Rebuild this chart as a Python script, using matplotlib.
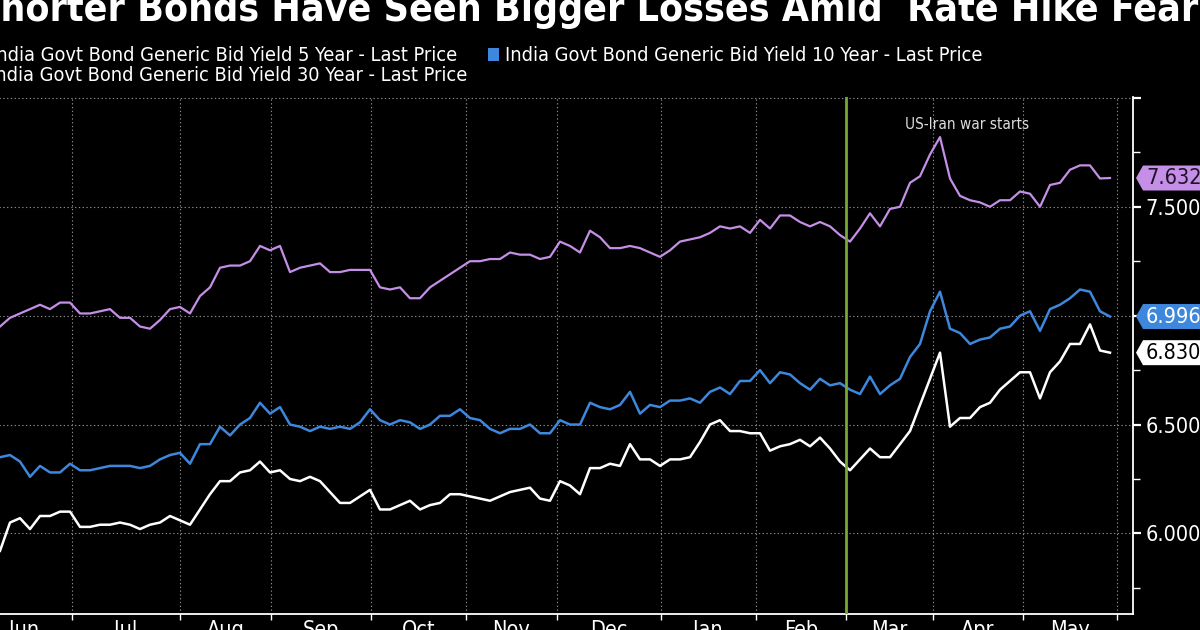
import matplotlib
matplotlib.use("Agg")
import matplotlib.pyplot as plt
from matplotlib.patches import Polygon, Rectangle
from matplotlib.transforms import blended_transform_factory
import numpy as np

# India govt bond generic bid yields, sampled about every other session (Jun 2025 - May 2026)
yield_5y = [
    5.92, 6.05, 6.07, 6.02, 6.08, 6.08, 6.10, 6.10, 6.03, 6.03,
    6.04, 6.04, 6.05, 6.04, 6.02, 6.04, 6.05, 6.08, 6.06, 6.04,
    6.11, 6.18, 6.24, 6.24, 6.28, 6.29, 6.33, 6.28, 6.29, 6.25,
    6.24, 6.26, 6.24, 6.19, 6.14, 6.14, 6.17, 6.20, 6.11, 6.11,
    6.13, 6.15, 6.11, 6.13, 6.14, 6.18, 6.18, 6.17, 6.16, 6.15,
    6.17, 6.19, 6.20, 6.21, 6.16, 6.15, 6.24, 6.22, 6.18, 6.30,
    6.30, 6.32, 6.31, 6.41, 6.34, 6.34, 6.31, 6.34, 6.34, 6.35,
    6.42, 6.50, 6.52, 6.47, 6.47, 6.46, 6.46, 6.38, 6.40, 6.41,
    6.43, 6.40, 6.44, 6.39, 6.33, 6.29, 6.34, 6.39, 6.35, 6.35,
    6.41, 6.47, 6.59, 6.71, 6.83, 6.49, 6.53, 6.53, 6.58, 6.60,
    6.66, 6.70, 6.74, 6.74, 6.62, 6.74, 6.79, 6.87, 6.87, 6.96,
    6.84, 6.830]

yield_10y = [
    6.35, 6.36, 6.33, 6.26, 6.31, 6.28, 6.28, 6.32, 6.29, 6.29,
    6.30, 6.31, 6.31, 6.31, 6.30, 6.31, 6.34, 6.36, 6.37, 6.32,
    6.41, 6.41, 6.49, 6.45, 6.50, 6.53, 6.60, 6.55, 6.58, 6.50,
    6.49, 6.47, 6.49, 6.48, 6.49, 6.48, 6.51, 6.57, 6.52, 6.50,
    6.52, 6.51, 6.48, 6.50, 6.54, 6.54, 6.57, 6.53, 6.52, 6.48,
    6.46, 6.48, 6.48, 6.50, 6.46, 6.46, 6.52, 6.50, 6.50, 6.60,
    6.58, 6.57, 6.59, 6.65, 6.55, 6.59, 6.58, 6.61, 6.61, 6.62,
    6.60, 6.65, 6.67, 6.64, 6.70, 6.70, 6.75, 6.69, 6.74, 6.73,
    6.69, 6.66, 6.71, 6.68, 6.69, 6.66, 6.64, 6.72, 6.64, 6.68,
    6.71, 6.81, 6.87, 7.02, 7.11, 6.94, 6.92, 6.87, 6.89, 6.90,
    6.94, 6.95, 7.00, 7.02, 6.93, 7.03, 7.05, 7.08, 7.12, 7.11,
    7.02, 6.996]

yield_30y = [
    6.95, 6.99, 7.01, 7.03, 7.05, 7.03, 7.06, 7.06, 7.01, 7.01,
    7.02, 7.03, 6.99, 6.99, 6.95, 6.94, 6.98, 7.03, 7.04, 7.01,
    7.09, 7.13, 7.22, 7.23, 7.23, 7.25, 7.32, 7.30, 7.32, 7.20,
    7.22, 7.23, 7.24, 7.20, 7.20, 7.21, 7.21, 7.21, 7.13, 7.12,
    7.13, 7.08, 7.08, 7.13, 7.16, 7.19, 7.22, 7.25, 7.25, 7.26,
    7.26, 7.29, 7.28, 7.28, 7.26, 7.27, 7.34, 7.32, 7.29, 7.39,
    7.36, 7.31, 7.31, 7.32, 7.31, 7.29, 7.27, 7.30, 7.34, 7.35,
    7.36, 7.38, 7.41, 7.40, 7.41, 7.38, 7.44, 7.40, 7.46, 7.46,
    7.43, 7.41, 7.43, 7.41, 7.37, 7.34, 7.40, 7.47, 7.41, 7.49,
    7.50, 7.61, 7.64, 7.74, 7.82, 7.63, 7.55, 7.53, 7.52, 7.50,
    7.53, 7.53, 7.57, 7.56, 7.50, 7.60, 7.61, 7.67, 7.69, 7.69,
    7.63, 7.632]

# session index where each month begins (Jun 2025 ... Jun 2026)
month_starts = [-4.6, 14.3, 36.0, 54.2, 74.2, 93.2, 111.4, 132.1, 151.2, 169.1, 186.5, 204.5, 223.4]
month_labels = ["Jun", "Jul", "Aug", "Sep", "Oct", "Nov", "Dec", "Jan", "Feb", "Mar", "Apr", "May"]
war_start = 169.1

series_names = [
    "India Govt Bond Generic Bid Yield 5 Year - Last Price",
    "India Govt Bond Generic Bid Yield 10 Year - Last Price",
    "India Govt Bond Generic Bid Yield 30 Year - Last Price",
]
title = "Shorter Bonds Have Seen Bigger Losses Amid  Rate Hike Fears"

W, H = 1200, 630
C5, C10, C30 = "#ffffff", "#3d87dc", "#c58fe8"
GREEN = "#77a832"

# condensed DejaVu is close to the terminal font
plt.rcParams["font.family"] = ["DejaVu Sans"]
plt.rcParams["font.stretch"] = "condensed"


def fx(px):
    return px / W


def fy(py):
    # pixel rows are counted from the top of the picture
    return (H - py) / H


def main():
    fig = plt.figure(figsize=(12, 6.3), dpi=100, facecolor="black")
    left_px, right_px, top_px, bottom_px = -40, 1133, 97, 614
    ax = fig.add_axes([fx(left_px), fy(bottom_px), fx(right_px - left_px), (bottom_px - top_px) / H])
    ax.set_facecolor("black")

    x = np.arange(len(yield_5y)) * 2
    ax.plot(x, yield_30y, color=C30, lw=1.6, zorder=3)
    ax.plot(x, yield_10y, color=C10, lw=1.8, zorder=3)
    ax.plot(x, yield_5y, color=C5, lw=1.8, zorder=3)
    ax.axvline(war_start, color=GREEN, lw=2.0, zorder=4)
    ax.text(193.4, 7.88, "US-Iran war starts", ha="center", va="center",
            fontsize=11, color="#dddddd")

    ax.set_xlim(left_px / 5, right_px / 5)
    ax.set_ylim(5.630, 8.004)

    # axes styling
    for s in ["left", "top"]:
        ax.spines[s].set_visible(False)
    for s in ["right", "bottom"]:
        ax.spines[s].set_color("white")
        ax.spines[s].set_linewidth(1.3)

    ax.set_xticks(month_starts)
    ax.set_xticklabels([])
    mids = [(a + b) / 2 for a, b in zip(month_starts[:-1], month_starts[1:])]
    ax.set_xticks(mids, minor=True)
    ax.set_xticklabels(month_labels, minor=True)
    ax.tick_params(axis="x", which="major", length=4, width=1, color="white", direction="out")
    ax.tick_params(axis="x", which="minor", length=0, pad=4.5, labelsize=15.5, labelcolor="white")

    ax.yaxis.tick_right()
    yt = [6.0, 6.5, 7.0, 7.5, 8.0]
    ax.set_yticks(yt)
    ax.set_yticklabels(["%.3f" % v if v < 8 else "" for v in yt])
    ax.set_yticks([5.75, 6.25, 6.75, 7.25, 7.75], minor=True)
    ax.tick_params(axis="y", which="major", length=6, width=1.6, color="white", pad=3,
                   labelsize=15.5, labelcolor="white")
    ax.tick_params(axis="y", which="minor", length=5, width=1, color="white")

    ax.set_axisbelow(True)
    ax.grid(True, which="major", color="#8c8c8c", lw=0.8, linestyle=(0, (1.2, 2.2)))

    # last value tags on the right axis
    tr = blended_transform_factory(fig.transFigure, ax.transData)
    half = 12.5 / 217.8
    for val, face, tc in [(yield_30y[-1], C30, "#1e1228"), (yield_10y[-1], C10, "white"),
                          (yield_5y[-1], C5, "black")]:
        poly = Polygon([(fx(1136), val), (fx(1143), val + half), (fx(1220), val + half),
                        (fx(1220), val - half), (fx(1143), val - half)], closed=True,
                       transform=tr, facecolor=face, edgecolor="none", clip_on=False, zorder=6)
        ax.add_patch(poly)
        ax.text(fx(1146), val, "%.3f" % val, transform=tr, ha="left", va="center",
                fontsize=15.5, color=tc, zorder=7, clip_on=False)

    # title and legend, fitted to the measured text widths
    fig.canvas.draw()
    renderer = fig.canvas.get_renderer()

    def width(s, size, **kw):
        t = fig.text(0, 0, s, fontsize=size, **kw)
        w = t.get_window_extent(renderer=renderer).width
        t.remove()
        return w

    tkw = dict(fontweight="bold")
    sub = "Bonds Have Seen Bigger Losses Amid  Rate Hike"
    tsize = 24 * 961 / width(sub, 24, **tkw)
    prefix = width("Shorter " + sub, tsize, **tkw) - width(sub, tsize, **tkw)
    fig.text(fx(137 - prefix), fy(21), title, fontsize=tsize, color="white",
             ha="left", va="baseline", **tkw)

    lsize = 15 * 478 / width(series_names[1], 15)
    fig.text(fx(457), fy(61), series_names[0], fontsize=lsize, color="white", ha="right", va="baseline")
    fig.text(fx(505), fy(61), series_names[1], fontsize=lsize, color="white", ha="left", va="baseline")
    fig.text(fx(467), fy(81), series_names[2], fontsize=lsize, color="white", ha="right", va="baseline")
    w0 = width(series_names[0], lsize)
    w2 = width(series_names[2], lsize)
    for px, py, c in [(457 - w0 - 17, 48, C5), (488, 48, C10), (467 - w2 - 17, 68, C30)]:
        fig.patches.append(Rectangle((fx(px), fy(py + 13)), fx(11), 13 / H, transform=fig.transFigure,
                                     facecolor=c, edgecolor="none"))

    fig.savefig("out.png", dpi=100, facecolor="black")


if __name__ == "__main__":
    main()
